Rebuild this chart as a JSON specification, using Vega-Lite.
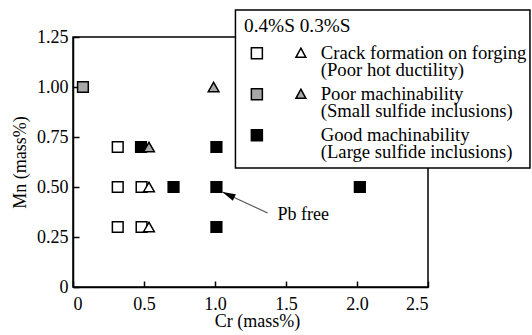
{
  "$schema": "https://vega.github.io/schema/vega-lite/v6.json",
  "autosize": {"type": "none"},
  "padding": {"left": 73, "top": 37, "right": 104, "bottom": 48},
  "width": 355,
  "height": 250,
  "config": {
    "view": {"stroke": "black", "strokeWidth": 1.5},
    "font": "Liberation Serif",
    "axis": {
      "grid": false,
      "domainColor": "black",
      "domainWidth": 1.5,
      "tickColor": "black",
      "tickWidth": 1.5,
      "tickSize": -6,
      "labelFont": "Liberation Serif",
      "labelFontSize": 18,
      "labelColor": "black",
      "titleFont": "Liberation Serif",
      "titleFontSize": 18,
      "titleFontWeight": "normal",
      "titleColor": "black"
    }
  },
  "datasets": {
    "pts": [
      {"Cr": 0.07, "Mn": 1.0, "S": "0.4%S", "result": "poor"},
      {"Cr": 0.315, "Mn": 0.7, "S": "0.4%S", "result": "crack"},
      {"Cr": 0.315, "Mn": 0.5, "S": "0.4%S", "result": "crack"},
      {"Cr": 0.315, "Mn": 0.3, "S": "0.4%S", "result": "crack"},
      {"Cr": 0.483, "Mn": 0.5, "S": "0.4%S", "result": "crack"},
      {"Cr": 0.483, "Mn": 0.3, "S": "0.4%S", "result": "crack"},
      {"Cr": 0.479, "Mn": 0.7, "S": "0.4%S", "result": "good"},
      {"Cr": 0.708, "Mn": 0.5, "S": "0.4%S", "result": "good"},
      {"Cr": 1.01, "Mn": 0.7, "S": "0.4%S", "result": "good"},
      {"Cr": 1.01, "Mn": 0.5, "S": "0.4%S", "result": "good"},
      {"Cr": 1.01, "Mn": 0.3, "S": "0.4%S", "result": "good"},
      {"Cr": 2.02, "Mn": 0.5, "S": "0.4%S", "result": "good"},
      {"Cr": 0.535, "Mn": 0.7, "S": "0.3%S", "result": "poor"},
      {"Cr": 0.535, "Mn": 0.5, "S": "0.3%S", "result": "crack"},
      {"Cr": 0.535, "Mn": 0.3, "S": "0.3%S", "result": "crack"},
      {"Cr": 0.99, "Mn": 1.0, "S": "0.3%S", "result": "poor"}
    ],
    "frame": [
      {"x": 1.144, "x2": 3.218, "y": 0.595, "y2": 1.385}
    ],
    "arrow": [
      {"x": 1.37, "y": 0.37, "x2": 1.052, "y2": 0.475}
    ],
    "note": [
      {"x": 1.44, "y": 0.36, "label": "Pb free"}
    ]
  },
  "layer": [
    {
      "data": {"name": "pts"},
      "mark": {"type": "point", "filled": true, "stroke": "black", "strokeWidth": 1.5, "opacity": 1},
      "encoding": {
        "x": {"field": "Cr", "type": "quantitative",
          "scale": {"domain": [0, 2.5], "nice": false, "zero": true},
          "axis": {"values": [0, 0.5, 1, 1.5, 2, 2.5], "labelExpr": "datum.value == 0 ? '0' : format(datum.value, '.1f')", "labelPadding": 14, "title": "Cr (mass%)", "titleX": 184, "titleY": 25, "titleBaseline": "top"}},
        "y": {"field": "Mn", "type": "quantitative",
          "scale": {"domain": [0, 1.25], "nice": false},
          "axis": {"values": [0, 0.25, 0.5, 0.75, 1, 1.25], "labelExpr": "datum.value == 0 ? '0' : format(datum.value, '.2f')", "labelPadding": 11, "title": "Mn (mass%)", "titlePadding": 7}},
        "shape": {"field": "S", "type": "nominal", "scale": {"domain": ["0.4%S", "0.3%S"], "range": ["square", "triangle-up"]}, "legend": null},
        "size": {"field": "S", "type": "nominal", "scale": {"domain": ["0.4%S", "0.3%S"], "range": [115, 115]}, "legend": null},
        "fill": {"field": "result", "type": "nominal", "scale": {"domain": ["crack", "poor", "good"], "range": ["white", "#a8a8a8", "black"]}, "legend": null}
      }
    },
    {
      "data": {"name": "frame"},
      "mark": {"type": "rect", "fill": "white", "stroke": "black", "strokeWidth": 1.5, "clip": false},
      "encoding": {
        "x": {"field": "x", "type": "quantitative"},
        "x2": {"field": "x2"},
        "y": {"field": "y", "type": "quantitative"},
        "y2": {"field": "y2"}
      }
    },
    {
      "data": {"name": "pts"},
      "mark": {"type": "point", "filled": true, "stroke": "black", "strokeWidth": 1.5, "opacity": 0, "size": 121},
      "encoding": {
        "x": {"field": "Cr", "type": "quantitative"},
        "y": {"field": "Mn", "type": "quantitative"},
        "shape": {"field": "result", "type": "nominal", "scale": {"domain": ["crack", "poor", "good"], "range": ["M-0.36,-1H1.64V1H-0.36Z M8.64,-0.9L9.54,0.75L7.74,0.75Z", "M-0.36,-1H1.64V1H-0.36Z M8.64,-0.9L9.54,0.75L7.74,0.75Z", "M-0.36,-1H1.64V1H-0.36Z"]}},
        "fill": {"field": "result", "type": "nominal", "scale": {"domain": ["crack", "poor", "good"], "range": ["white", "#a8a8a8", "black"]},
          "legend": {
            "orient": "none",
            "legendX": 169,
            "legendY": -22.5,
            "direction": "vertical",
            "title": "0.4%S 0.3%S",
            "titleAnchor": "start",
            "titleFont": "Liberation Serif",
            "titleFontSize": 19.3,
            "titleFontWeight": "normal",
            "titleColor": "black",
            "titlePadding": 8,
            "labelFont": "Liberation Serif",
            "labelFontSize": 18.7,
            "labelColor": "black",
            "labelLimit": 400,
            "labelOffset": 58,
            "symbolOffset": 0,
            "symbolSize": 121,
            "symbolStrokeColor": "black",
            "symbolStrokeWidth": 1.5,
            "rowPadding": 5,
            "padding": 2,
            "labelExpr": "datum.value == 'crack' ? ['Crack formation on forging', '(Poor hot ductility)'] : datum.value == 'poor' ? ['Poor machinability', '(Small sulfide inclusions)'] : ['Good machinability', '(Large sulfide inclusions)']",
            "encode": {
              "symbols": {"update": {"opacity": {"value": 1}, "stroke": {"value": "black"}, "strokeWidth": {"value": 1.5}}},
              "labels": {"update": {"lineHeight": {"value": 16.5}}}
            }
          }}
      }
    },
    {
      "data": {"name": "arrow"},
      "mark": {"type": "rule", "color": "#555555", "strokeWidth": 1.2},
      "encoding": {
        "x": {"field": "x", "type": "quantitative"},
        "y": {"field": "y", "type": "quantitative"},
        "x2": {"field": "x2"},
        "y2": {"field": "y2"}
      }
    },
    {
      "data": {"name": "arrow"},
      "mark": {"type": "point", "filled": true, "color": "black", "opacity": 1, "size": 144, "angle": 295, "shape": "M0,0L0.6,2.2L-0.6,2.2Z"},
      "encoding": {
        "x": {"field": "x2", "type": "quantitative"},
        "y": {"field": "y2", "type": "quantitative"}
      }
    },
    {
      "data": {"name": "note"},
      "mark": {"type": "text", "font": "Liberation Serif", "fontSize": 18, "color": "black", "align": "left", "baseline": "middle"},
      "encoding": {
        "x": {"field": "x", "type": "quantitative"},
        "y": {"field": "y", "type": "quantitative"},
        "text": {"field": "label"}
      }
    }
  ],
  "resolve": {"scale": {"shape": "independent", "fill": "independent", "size": "independent"}}
}
